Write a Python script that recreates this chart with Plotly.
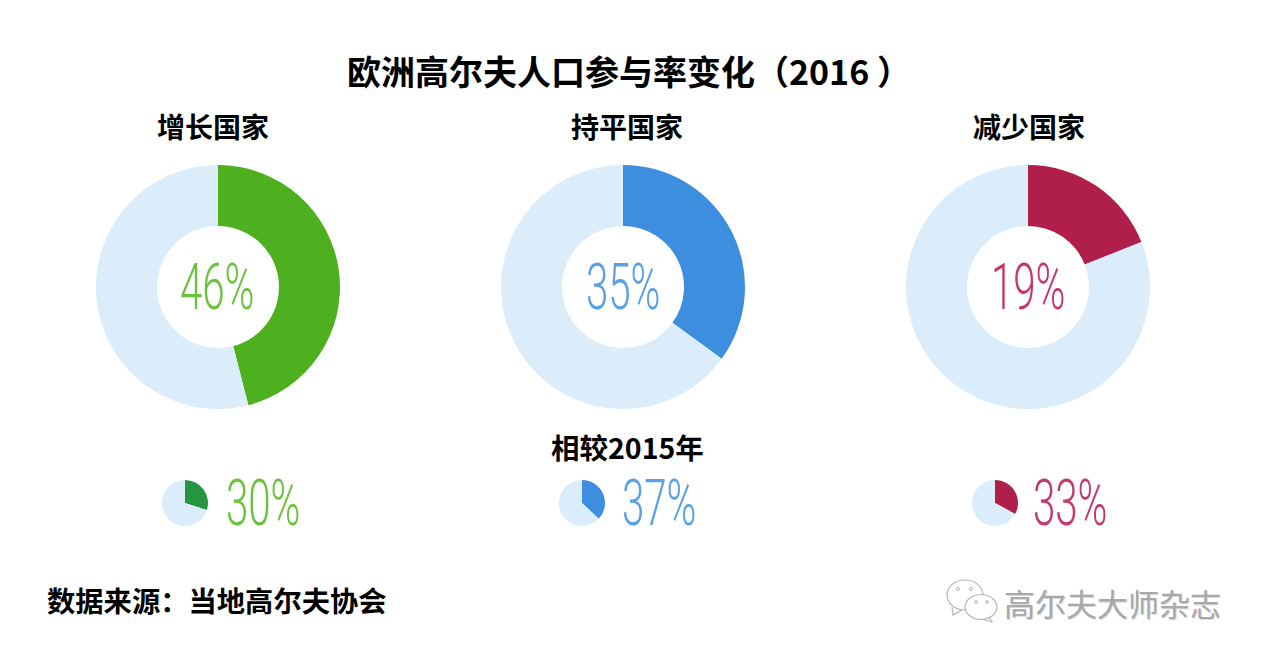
import plotly.graph_objects as go

W, H = 1262, 659
PAGE = 8  # the page's own body margin
FW, FH = W - 2 * PAGE, H - 2 * PAGE

title = "欧洲高尔夫人口参与率变化（2016 ）"
groups = ["增长国家", "持平国家", "减少国家"]
share_2016 = [46, 35, 19]
share_2015 = [30, 37, 33]
compare_label = "相较2015年"
source = "数据来源：当地高尔夫协会"
watermark = "高尔夫大师杂志"

big_colors = ["#4FB01F", "#3D8EDF", "#B01E4B"]
small_colors = ["#23963F", "#3D8EDF", "#B01E4B"]
text_colors = ["#6CC23E", "#5AA0E4", "#C23A6C"]
rest_color = "#DBECFA"
big_cx = [218, 623, 1028]
small_cx = [185, 582, 995]
label_cx = [213, 627, 1029]
big_text_cx = [217, 623, 1028]
small_text_cx = [263, 659, 1070]
CJK = "Noto Sans CJK SC"
THIN = "Roboto"


def px(x):
    return (x - PAGE) / FW


def py(y):
    return 1 - (y - PAGE) / FH


def dom(cx, cy, r):
    return dict(x=[px(cx - r), px(cx + r)], y=[py(cy + r), py(cy - r)])


def note(x, y, text, size, color="#000000", family=CJK, bold=True, anchor="center", **font):
    return dict(
        x=px(x), y=py(y), xref="paper", yref="paper", xanchor=anchor, yanchor="middle",
        text=f"<b>{text}</b>" if bold else text, showarrow=False,
        font=dict(family=family, size=size, color=color, **font),
    )


def ellipse(cx, cy, rx, ry, line="#B5B5B5", fill="#FFFFFF", width=1.2):
    return dict(type="circle", xref="paper", yref="paper",
                x0=px(cx - rx), x1=px(cx + rx), y0=py(cy + ry), y1=py(cy - ry),
                line=dict(color=line, width=width), fillcolor=fill)


def tail(points):
    d = "M " + " L ".join(f"{px(x):.5f} {py(y):.5f}" for x, y in points)
    return dict(type="path", xref="paper", yref="paper", path=d,
                line=dict(color="#B5B5B5", width=1.2), fillcolor="#FFFFFF")


fig = go.Figure()
for i in range(3):
    for value, cx, cy, r, hole, col in [
        (share_2016[i], big_cx[i], 287, 122, 0.5, big_colors[i]),
        (share_2015[i], small_cx[i], 503, 23, 0, small_colors[i]),
    ]:
        fig.add_trace(go.Pie(
            values=[value, 100 - value], sort=False, direction="clockwise", rotation=0,
            hole=hole, domain=dom(cx, cy, r), textinfo="none", hoverinfo="skip",
            marker=dict(colors=[col, rest_color], line=dict(width=0)), showlegend=False,
        ))

ann = [note(345, 70, title, 34, anchor="left"), note(627, 446, compare_label, 28.5),
       note(45, 599, source, 28.3, anchor="left"),
       note(1112, 602, watermark, 31, color="#A8A8A8", bold=False,
            shadow="1px 1px 0px #D8D8D8")]
for i in range(3):
    ann.append(note(label_cx[i], 126, groups[i], 28))
    ann.append(note(big_text_cx[i], 287, f"{share_2016[i]}%", 64, text_colors[i], THIN, False, weight=300))
    ann.append(note(small_text_cx[i], 503, f"{share_2015[i]}%", 64, text_colors[i], THIN, False, weight=300))

icon = [
    tail([(952, 607), (953, 615), (962, 610)]),
    ellipse(965, 595, 18, 15),
    tail([(988, 616), (992, 622), (982, 619)]),
    ellipse(981, 607, 16, 12.5),
    ellipse(958, 589, 1.6, 1.6, fill="#FFFFFF", width=1),
    ellipse(971, 589, 1.6, 1.6, fill="#FFFFFF", width=1),
    ellipse(976, 602, 1.4, 1.4, fill="#FFFFFF", width=1),
    ellipse(987, 602, 1.4, 1.4, fill="#FFFFFF", width=1),
]

fig.update_layout(
    width=FW, height=FH, margin=dict(l=0, r=0, t=0, b=0),
    paper_bgcolor="#FFFFFF", plot_bgcolor="#FFFFFF", annotations=ann, shapes=icon,
)

# The reference's figures are ultra-condensed; squeeze the percent labels horizontally.
squeeze = """
function squeeze() {
  document.querySelectorAll('.annotation-text').forEach(function (t) {
    if (t.dataset.sq || !/%$/.test(t.textContent)) return;
    var b = t.getBBox(), c = b.x + b.width / 2;
    var old = t.getAttribute('transform') || '';
    t.setAttribute('transform', old + ' translate(' + c + ',0) scale(0.63,1) translate(' + (-c) + ',0)');
    t.dataset.sq = '1';
  });
}
squeeze();
requestAnimationFrame(squeeze);
setTimeout(squeeze, 100);
"""
fig.write_html("out.html", post_script=squeeze)
